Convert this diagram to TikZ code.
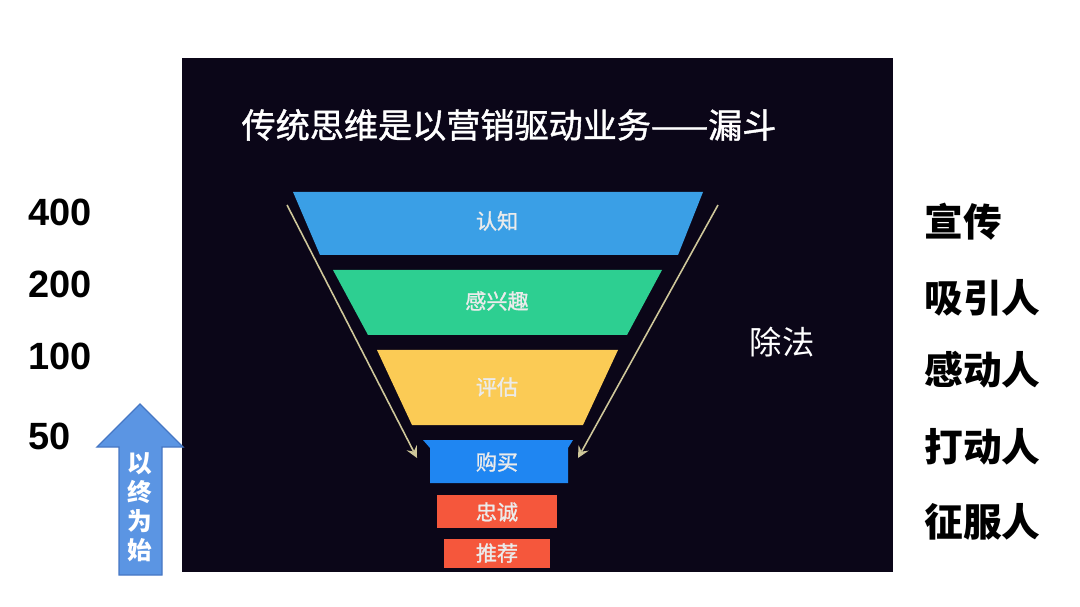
\documentclass[tikz,border=0pt]{standalone}
\usepackage{fontspec}
\setmainfont{Liberation Sans}
\newfontfamily\cjk{Noto Sans CJK SC}
\newfontfamily\cjkmid[FakeBold=1.2]{Noto Sans CJK SC}
\usetikzlibrary{shapes,arrows,positioning}

\definecolor{panelbg}{RGB}{11,6,24}
\definecolor{aware}{RGB}{58,159,230}
\definecolor{interest}{RGB}{45,207,145}
\definecolor{evaluate}{RGB}{251,203,85}
\definecolor{purchase}{RGB}{31,134,242}
\definecolor{loyal}{RGB}{245,87,60}
\definecolor{guide}{RGB}{207,199,154}
\definecolor{upfill}{RGB}{91,149,227}
\definecolor{upedge}{RGB}{70,119,196}

\begin{document}
\begin{tikzpicture}[
    x=0.01cm, y=-0.01cm,
    stage/.style={text=white!92!black, font=\cjkmid\fontsize{6}{7}\selectfont},
    count/.style={font=\bfseries\fontsize{10.8}{12}\selectfont, anchor=west},
    effect/.style={font=\cjk\bfseries\fontsize{11}{12}\selectfont, anchor=west},
    arrow/.style={->, >=stealth, guide, line width=0.45pt}
]
\useasboundingbox (0,0) rectangle (1080,607);
\fill[panelbg] (182,58) rectangle (893,572);
\node (title) [text=white, font=\cjkmid\fontsize{9.7}{11}\selectfont] at (509,125) {传统思维是以营销驱动业务——漏斗};

% funnel
\fill[aware] (293,192) -- (703,192) -- (678,255) -- (320,255) -- cycle;
\fill[interest] (333,270) -- (662,270) -- (627,335) -- (368,335) -- cycle;
\fill[evaluate] (377,350) -- (618,350) -- (583,425) -- (412,425) -- cycle;
\fill[purchase] (423,440) -- (573,440) -- (568,448) -- (568,483) -- (430,483) -- (430,448) -- cycle;
\fill[loyal] (437,495) rectangle (557,528);
\fill[loyal] (444,539) rectangle (550,568);
\node (s1) [stage] at (497,221) {认知};
\node (s2) [stage] at (497,301) {感兴趣};
\node (s3) [stage] at (497,387) {评估};
\node (s4) [stage] at (497,462) {购买};
\node (s5) [stage] at (497,512) {忠诚};
\node (s6) [stage] at (497,553) {推荐};

\coordinate (lt) at (287,205);
\coordinate (lb) at (417,458);
\coordinate (rt) at (718,205);
\coordinate (rb) at (578,458);
\draw[arrow] (lt) -- (lb);
\draw[arrow] (rt) -- (rb);
\node (div) [text=white, font=\cjk\fontsize{9.2}{11}\selectfont] at (782,342) {除法};

% left side
\node (n400) [count] at (16,212) {400};
\node (n200) [count] at (16,284) {200};
\node (n100) [count] at (16,356) {100};
\node (n50) [count] at (16,436) {50};
\filldraw[fill=upfill, draw=upedge, line width=0.4pt] (119,575) -- (119,447) -- (97,447) -- (140,404) -- (183,447) -- (162,447) -- (162,575) -- cycle;
\node (goal) [text=white, font=\cjk\bfseries\fontsize{7}{8.2}\selectfont, align=center] at (140,507) {以\\终\\为\\始};

% right side
\node (e1) [effect] at (912,222) {宣传};
\node (e2) [effect] at (912,298) {吸引人};
\node (e3) [effect] at (912,370) {感动人};
\node (e4) [effect] at (912,447) {打动人};
\node (e5) [effect] at (912,522) {征服人};
\end{tikzpicture}
\end{document}
